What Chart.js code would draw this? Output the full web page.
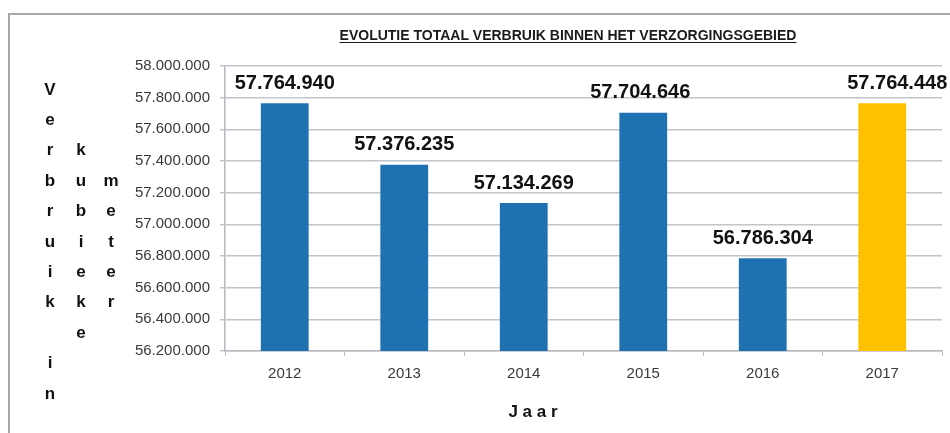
<!DOCTYPE html>
<html>
<head>
<meta charset="utf-8">
<script src="https://cdn.jsdelivr.net/npm/chart.js@4.4.0/dist/chart.umd.min.js"></script>
<style>
  html, body { margin: 0; padding: 0; background: #ffffff; }
  #wrap { width: 950px; height: 433px; position: relative; }
</style>
</head>
<body>
<div id="wrap"><canvas id="chart" width="950" height="433"></canvas></div>
<script>
// Chart data
const years = ['2012', '2013', '2014', '2015', '2016', '2017'];
const consumption = [57764940, 57376235, 57134269, 57704646, 56786304, 57764448];
const barColors = ['#1f72b2', '#1f72b2', '#1f72b2', '#1f72b2', '#1f72b2', '#ffc000'];
const yMin = 56200000;
const yMax = 58000000;
const yStep = 200000;

const chartTitle = 'EVOLUTIE TOTAAL VERBRUIK BINNEN HET VERZORGINGSGEBIED';
const xTitle = 'J a a r';
// y title is stacked letter by letter in three columns, like the original
const yTitleColumns = ['Verbruik in', 'kubieke', 'meter'];
const yTitleStartRows = [0, 2, 3];

const FONT = "'Liberation Sans', Arial, sans-serif";

function formatDots(value) {
  return String(Math.round(value)).replace(/\B(?=(\d{3})+(?!\d))/g, '.');
}

/**
 * Frame, title and axis titles drawn around the plot
 */
const decorPlugin = {
  id: 'decor',
  beforeDraw(chart) {
    const ctx = chart.ctx;
    ctx.save();
    ctx.fillStyle = '#ffffff';
    ctx.fillRect(0, 0, chart.width, chart.height);
    ctx.strokeStyle = '#a8a8a8';
    ctx.lineWidth = 2;
    ctx.strokeRect(9, 14, chart.width + 20, chart.height + 20);
    ctx.restore();
  },
  afterDraw(chart) {
    const ctx = chart.ctx;
    ctx.save();

    // Title, underlined
    ctx.font = 'bold 14px ' + FONT;
    ctx.fillStyle = '#1a1a1a';
    ctx.textAlign = 'center';
    ctx.textBaseline = 'alphabetic';
    const tx = 568;
    const ty = 40;
    ctx.fillText(chartTitle, tx, ty);
    const w = ctx.measureText(chartTitle).width;
    ctx.strokeStyle = '#1a1a1a';
    ctx.lineWidth = 1;
    ctx.beginPath();
    ctx.moveTo(tx - w / 2, ty + 2.5);
    ctx.lineTo(tx + w / 2, ty + 2.5);
    ctx.stroke();

    // X axis title
    ctx.font = 'bold 17px ' + FONT;
    ctx.textBaseline = 'middle';
    ctx.fillStyle = '#111111';
    ctx.fillText(xTitle, 533, 412);

    // Y axis title, stacked letters
    ctx.font = 'bold 17px ' + FONT;
    const colX = [50, 81, 111];
    const rowY0 = 90;
    const rowGap = 30.4;
    yTitleColumns.forEach((word, c) => {
      [...word].forEach((ch, i) => {
        if (ch === ' ') return;
        ctx.fillText(ch, colX[c], rowY0 + (yTitleStartRows[c] + i) * rowGap);
      });
    });
    ctx.restore();
  }
};

/**
 * Value labels above each bar
 */
const valueLabelPlugin = {
  id: 'valueLabels',
  afterDatasetsDraw(chart, args, opts) {
    const ctx = chart.ctx;
    const meta = chart.getDatasetMeta(0);
    ctx.save();
    ctx.font = 'bold 20px ' + FONT;
    ctx.fillStyle = '#111111';
    ctx.textAlign = 'center';
    ctx.textBaseline = 'middle';
    meta.data.forEach((bar, i) => {
      const nudge = (opts.nudge && opts.nudge[i]) || 0;
      ctx.fillText(formatDots(consumption[i]), bar.x + nudge, bar.y - 20);
    });
    ctx.restore();
  }
};

new Chart(document.getElementById('chart'), {
  type: 'bar',
  data: {
    labels: years,
    datasets: [{
      data: consumption,
      backgroundColor: barColors,
      borderWidth: 0,
      categoryPercentage: 1,
      barPercentage: 0.4
    }]
  },
  options: {
    responsive: false,
    animation: false,
    layout: { padding: { top: 66, right: 8, left: 0, bottom: 0 } },
    plugins: {
      legend: { display: false },
      tooltip: { enabled: false },
      valueLabels: { nudge: [0, 0, 0, -3, 0, 15] }
    },
    scales: {
      x: {
        afterFit(scale) { scale.height = 82; },
        grid: {
          drawOnChartArea: false,
          color: '#b8b8c0',
          tickLength: 5,
          offset: true
        },
        border: { color: '#b8b8c0', width: 1.5 },
        ticks: {
          color: '#3a3a3a',
          padding: 9,
          font: { family: FONT, size: 15 }
        }
      },
      y: {
        min: yMin,
        max: yMax,
        afterFit(scale) { scale.width = 225; },
        grid: {
          color: '#c4c4cc',
          lineWidth: 1.5,
          tickLength: 5
        },
        border: { color: '#b8b8c0', width: 1.5 },
        ticks: {
          stepSize: yStep,
          color: '#3a3a3a',
          padding: 10,
          font: { family: FONT, size: 15 },
          callback: (value) => formatDots(value)
        }
      }
    }
  },
  plugins: [decorPlugin, valueLabelPlugin]
});
</script>
</body>
</html>
